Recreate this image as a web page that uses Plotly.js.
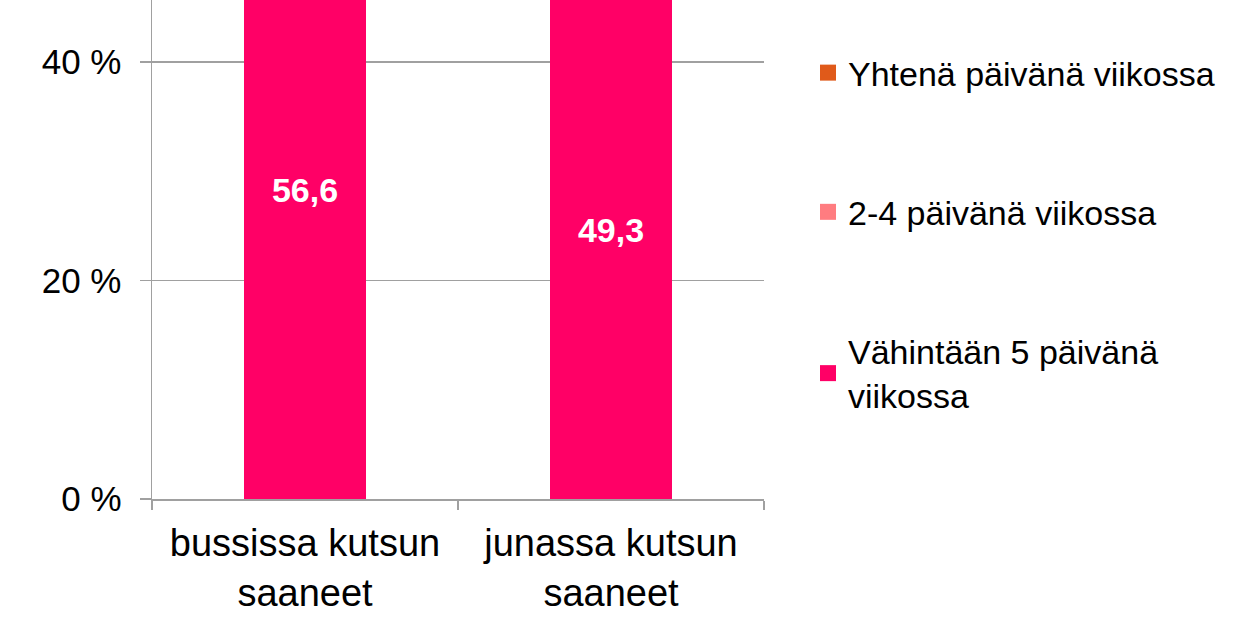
<!DOCTYPE html>
<html>
<head>
<meta charset="utf-8">
<script src="https://cdn.plot.ly/plotly-3.0.1.min.js"></script>
<style>html,body{margin:0;padding:0;background:#fff;}#chart{width:1250px;height:629px;}</style>
</head>
<body>
<div id="chart"></div>
<script>
const categories = ["bussissa kutsun<br>saaneet", "junassa kutsun<br>saaneet"];
const seriesNames = ["Vähintään 5 päivänä<br>viikossa", "2-4 päivänä viikossa", "Yhtenä päivänä viikossa"];
const vahintaan5 = [56.6, 49.3];
const paiva2to4 = [33.1, 38.2];
const yhtena = [10.3, 12.5];
const tickVals = [0, 20, 40];
const tickText = ["0 %", "20 %", "40 %"];
const colors = ["#FF0066", "#FF7C80", "#E05A1A"];

const FONT = "Liberation Sans, Arial, sans-serif";
const seriesValues = [vahintaan5, paiva2to4, yhtena];

const barTraces = seriesValues.map((vals, i) => ({
  type: "bar",
  name: seriesNames[i],
  x: categories,
  y: vals,
  showlegend: false,
  marker: {color: colors[i], line: {width: 0}},
  texttemplate: i === 0 ? "%{y:.1f}" : "",
  textposition: i === 0 ? "inside" : "none",
  insidetextanchor: "middle",
  textangle: 0,
  constraintext: "none",
  textfont: {family: FONT, size: 34, color: "#ffffff", weight: "bold"},
  hoverinfo: "none"
}));

// legend entries (square swatches), ordered top to bottom as in the reference
const legendTraces = seriesValues.map((vals, i) => ({
  type: "scatter",
  mode: "markers",
  name: seriesNames[i],
  x: [null], y: [null],
  legendgroup: "g" + i,
  legendrank: 10 - i,
  marker: {symbol: "square", size: 16, color: colors[i]},
  hoverinfo: "none"
}));

const layout = {
  width: 1250, height: 629,
  margin: {l: 152, r: 486, t: 0, b: 130, pad: 0},
  paper_bgcolor: "#ffffff", plot_bgcolor: "#ffffff",
  separators: ",.",
  barmode: "stack",
  bargap: 0.6,
  font: {family: FONT, color: "#000000"},
  showlegend: true,
  legend: {
    xref: "container", yref: "container",
    x: 0.6464, y: 0.93, xanchor: "left", yanchor: "top",
    traceorder: "grouped",
    tracegroupgap: 92,
    itemsizing: "trace",
    maxheight: 600,
    font: {family: FONT, size: 34, color: "#000000"},
    bgcolor: "rgba(0,0,0,0)", borderwidth: 0
  },
  xaxis: {
    type: "category",
    showline: true, linecolor: "#a0a0a0", linewidth: 1.5,
    ticks: "outside", tickson: "boundaries", ticklen: 9, tickcolor: "#a0a0a0", tickwidth: 1.5,
    ticklabelstandoff: 10,
    tickfont: {family: FONT, size: 38, color: "#000000"},
    showgrid: false, zeroline: false, fixedrange: true
  },
  yaxis: {
    range: [0, 45.65],
    tickvals: tickVals, ticktext: tickText,
    showline: true, linecolor: "#a0a0a0", linewidth: 1.5,
    ticks: "outside", ticklen: 11, tickcolor: "#a0a0a0", tickwidth: 1.5,
    ticklabelstandoff: 11,
    tickfont: {family: FONT, size: 35, color: "#000000"},
    showgrid: true, gridcolor: "#a0a0a0", gridwidth: 1.5,
    zeroline: false, fixedrange: true
  }
};

Plotly.newPlot("chart", barTraces.concat(legendTraces), layout, {staticPlot: true, displayModeBar: false});
</script>
</body>
</html>
